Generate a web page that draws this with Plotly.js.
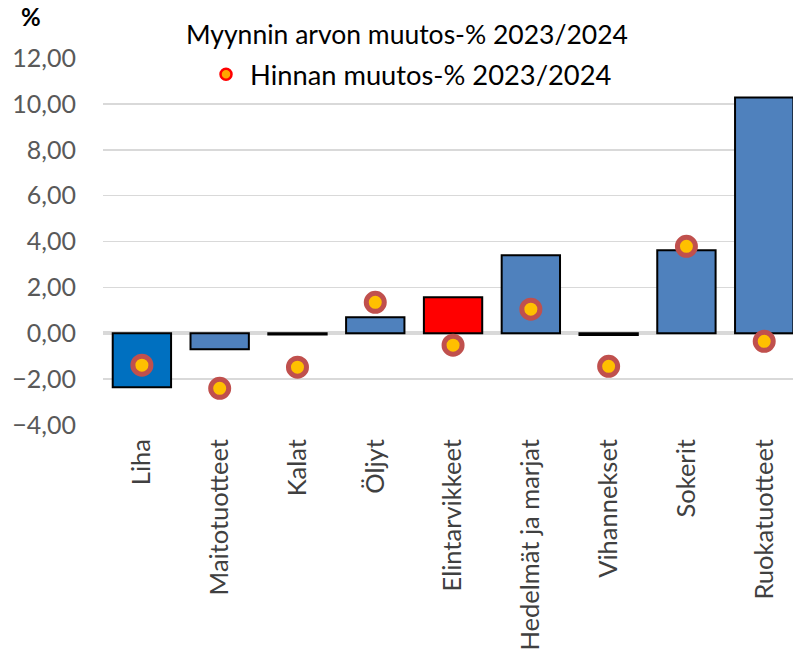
<!DOCTYPE html>
<html><head><meta charset="utf-8">
<script src="https://cdn.plot.ly/plotly-3.0.1.min.js"></script>
<style>html,body{margin:0;padding:0;background:#fff;overflow:hidden}</style>
</head><body><div id="chart" style="width:793px;height:664px"></div>
<script>
const categories = ["Liha","Maitotuotteet","Kalat","Öljyt","Elintarvikkeet","Hedelmät ja marjat","Vihannekset","Sokerit","Ruokatuotteet"];
const salesChange = [-2.35,-0.70,-0.05,0.70,1.57,3.40,-0.08,3.62,10.28];
const priceChange = [-1.39,-2.40,-1.48,1.35,-0.52,1.05,-1.44,3.79,-0.35];
const barColors = ["#0070C0","#4F81BD","#4F81BD","#4F81BD","#FF0000","#4F81BD","#4F81BD","#4F81BD","#4F81BD"];
const salesName = "Myynnin arvon muutos-% 2023/2024";
const priceName = "Hinnan muutos-% 2023/2024";
const yTicks = [-4,-2,0,2,4,6,8,10,12];

const FONT = "Lato, 'Open Sans', sans-serif";
const traces = [
  {type:"bar", x:categories, y:salesChange, name:salesName, showlegend:false,
   marker:{color:barColors, line:{color:"#000", width:2}}, width:0.75},
  {type:"scatter", mode:"markers", x:categories, y:priceChange, name:priceName, showlegend:false,
   marker:{color:"#FFC000", size:18, line:{color:"#C0504D", width:5}}},
  {type:"scatter", mode:"markers", x:[null], y:[null], name:priceName, showlegend:true,
   marker:{color:"#FFA500", size:11, line:{color:"#FF0000", width:2.5}}}
];
const layout = {
  width:793, height:664, margin:{l:103,r:0,t:58,b:239},
  paper_bgcolor:"#fff", plot_bgcolor:"#fff",
  separators:", ",
  font:{family:FONT, size:25, color:"#595959"},
  xaxis:{type:"category", range:[-0.5,8.37], tickangle:-90, showgrid:false, zeroline:false,
         showline:false, ticks:"", tickfont:{size:25.5,color:"#404040"}, ticklabelstandoff:8},
  yaxis:{range:[-4,12], tickvals:yTicks, tickformat:".2f", showgrid:true, gridcolor:"#D9D9D9", gridwidth:1.5,
         zeroline:true, zerolinecolor:"#D9D9D9", zerolinewidth:4, ticks:"", ticklabelstandoff:26,
         tickfont:{size:25,color:"#595959"}},
  bargap:0.25,
  showlegend:true,
  legend:{x:0.1435, y:0.955, xanchor:"left", yanchor:"middle", bgcolor:"rgba(0,0,0,0)",
          font:{size:27.3,color:"#000"}, itemsizing:"trace", itemwidth:38},
  annotations:[
    {text:salesName, xref:"paper", yref:"paper", x:0.44, y:1.0, yshift:24, xanchor:"center", yanchor:"middle",
     showarrow:false, font:{size:26.5,color:"#000"}},
    {text:"<b>%</b>", xref:"paper", yref:"paper", x:-0.104, y:1.0, yshift:42, xanchor:"center", yanchor:"middle",
     showarrow:false, font:{size:24,color:"#000"}}
  ]
};
Plotly.newPlot("chart", traces, layout, {displayModeBar:false, staticPlot:true});
</script></body></html>
